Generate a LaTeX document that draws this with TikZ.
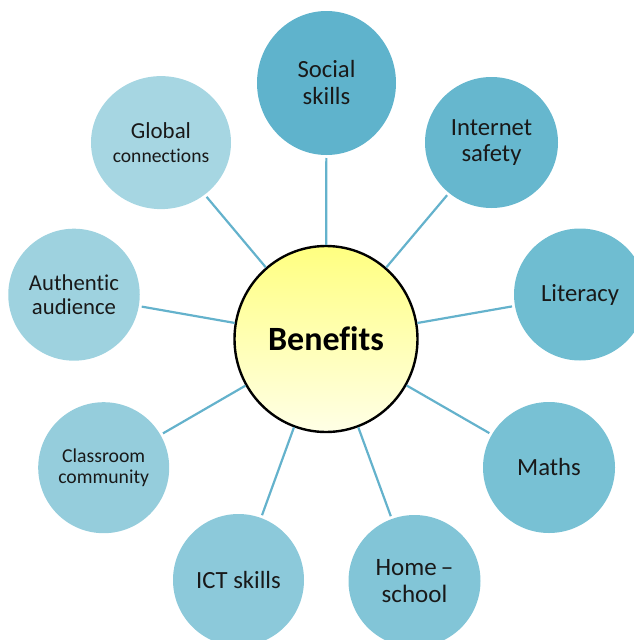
\documentclass[tikz,border=0pt]{standalone}
\usepackage{fontspec}
\setmainfont{Carlito}[Ligatures=NoCommon]
\usetikzlibrary{shapes.geometric}
\definecolor{cSoc}{HTML}{5FB3CC}
\definecolor{cInt}{HTML}{66B7CE}
\definecolor{cLit}{HTML}{6FBDD1}
\definecolor{cMat}{HTML}{78C1D4}
\definecolor{cHom}{HTML}{82C5D7}
\definecolor{cIct}{HTML}{8CC9DA}
\definecolor{cCls}{HTML}{95CDDC}
\definecolor{cAut}{HTML}{9ED2DF}
\definecolor{cGlo}{HTML}{A6D6E2}
\definecolor{cLine}{HTML}{64B2CC}
\definecolor{cTop}{HTML}{FFFF80}
\definecolor{cBot}{HTML}{FFFFE6}
\tikzset{
  bubble/.style={ellipse, inner sep=0pt, outer sep=0pt, align=center, text=black!90},
  hub/.style={ellipse, inner sep=0pt, draw=black, line width=2.4pt, top color=cTop, bottom color=cBot, font=\fontsize{34}{36}\selectfont\bfseries},
  spoke/.style={draw=cLine, line width=2.2pt, shorten <=3pt},
  big/.style={font=\fontsize{24.7}{27}\selectfont}
}
\begin{document}
\begin{tikzpicture}[x=1pt,y=-1pt]
\useasboundingbox (0,0) rectangle (634,640);
\node[hub, minimum width=183pt, minimum height=186pt] (ben) at (326,339) {Benefits};
\node[bubble, fill=cSoc, minimum width=139pt, minimum height=144pt, big] (soc) at (326.5,83) {Social\\skills};
\node[bubble, fill=cInt, minimum width=133pt, minimum height=131pt, font=\fontsize{24.7}{25.5}\selectfont] (int) at (491.5,142.5) {Internet\\safety};
\node[bubble, fill=cLit, minimum width=132pt, minimum height=132pt, big] (lit) at (580,294.5) {Literacy};
\node[bubble, fill=cMat, minimum width=132pt, minimum height=131pt, big] (mat) at (549,467.5) {Maths};
\node[bubble, fill=cHom, minimum width=132pt, minimum height=132pt, font=\fontsize{25}{27.7}\selectfont] (hom) at (414.5,581) {Home\,–\\school};
\node[bubble, fill=cIct, minimum width=131pt, minimum height=132pt, big] (ict) at (238.5,580) {ICT skills};
\node[bubble, fill=cCls, minimum width=131pt, minimum height=131pt, font=\fontsize{19.7}{21}\selectfont] (cls) at (103.7,467.7) {Classroom\\community};
\node[bubble, fill=cAut, minimum width=131.5pt, minimum height=132pt, font=\fontsize{22.7}{24.4}\selectfont] (aut) at (74,294.7) {Authentic\\audience};
\node[bubble, fill=cGlo, minimum width=140pt, minimum height=133pt, font=\fontsize{22.9}{23.4}\selectfont] (glo) at (161,142.6) {Global\\{\fontsize{19.6}{23.4}\selectfont connections}};
\foreach \n in {soc,int,lit,mat,hom,ict,cls,aut,glo}
  \draw[spoke] (\n) -- (ben);
\end{tikzpicture}
\end{document}
